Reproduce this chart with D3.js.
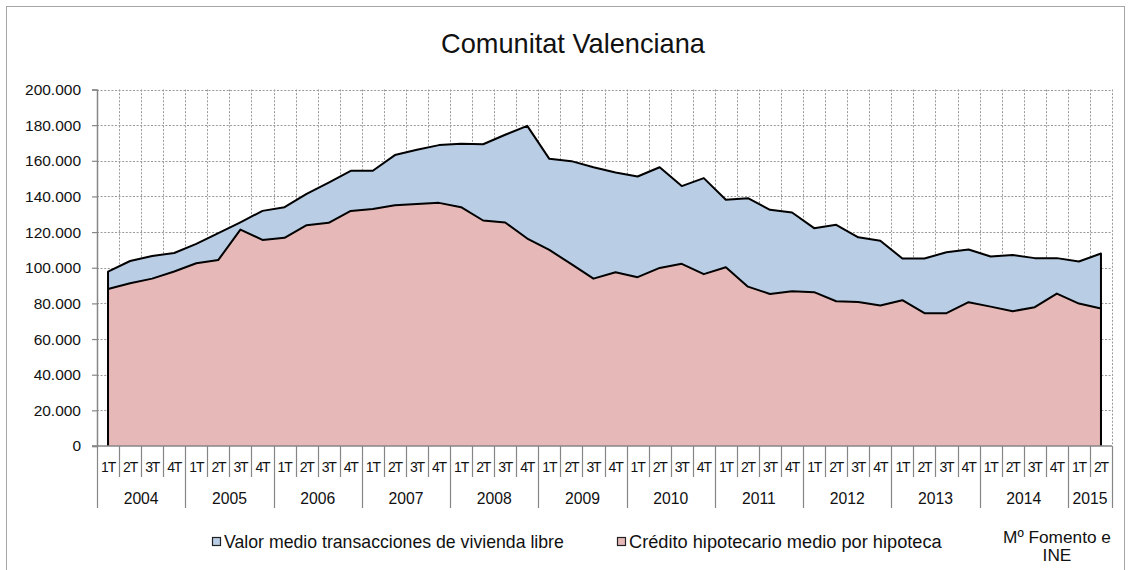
<!DOCTYPE html>
<html><head><meta charset="utf-8">
<script src="https://cdn.jsdelivr.net/npm/d3@7"></script>
<style>html,body{margin:0;padding:0;background:#fff;} svg{display:block;}</style>
</head><body>
<svg id="c" width="1131" height="570"></svg>
<script>
const years = ["2004","2005","2006","2007","2008","2009","2010","2011","2012","2013","2014","2015"];
const quarters = ["1T","2T","3T","4T"];
const yTicks = [0,20000,40000,60000,80000,100000,120000,140000,160000,180000,200000];
const title = "Comunitat Valenciana";
const seriesNames = ["Valor medio transacciones de vivienda libre","Crédito hipotecario medio por hipoteca"];
const source = ["Mº Fomento e","INE"];
const valorMedio = [97800,103800,106600,108300,113400,119400,125500,131900,134000,141500,147800,154400,154400,163200,166200,168800,
  169500,169300,174600,179600,161100,159800,156400,153400,151200,156400,145800,150300,138100,139000,132500,
  131000,122200,124100,117100,115100,105200,105200,108700,110200,106300,107200,105400,105400,103500,108000];
const credito = [88100,91300,93900,97900,102500,104400,121400,115600,116800,123900,125200,131900,133000,135100,135800,136400,
  134000,126500,125400,116400,110000,102000,93900,97500,94700,99900,102200,96400,100300,89400,85300,
  86800,86300,81200,80800,78800,81800,74500,74500,80700,78200,75600,77900,85500,79900,77100];

// categories: year x quarter, last year has 2 quarters
const categories = [];
years.forEach(y => quarters.forEach(q => { if (categories.length < valorMedio.length) categories.push({year:y, q:q}); }));

const FONT = "Liberation Sans";
const svg = d3.select("#c");
const L = 97, R = 1112, T = 89.5, B = 446;

// outer frame
svg.append("rect").attr("x",6.5).attr("y",6.5).attr("width",1118).attr("height",600)
  .attr("fill","#fff").attr("stroke","#a6a6a6").attr("stroke-width",1);

const x = d3.scaleBand().domain(d3.range(categories.length)).range([L,R]).padding(0);
const y = d3.scaleLinear().domain([0,200000]).range([B,T]);
const bw = x.bandwidth();
const cx = i => x(i) + bw/2;

// gridlines
const grid = svg.append("g").attr("stroke","#9a9a9a").attr("stroke-width",1).attr("stroke-dasharray","2,1.6");
yTicks.filter(v=>v>0).forEach(v => grid.append("line").attr("x1",L).attr("x2",R).attr("y1",Math.round(y(v))+0.5).attr("y2",Math.round(y(v))+0.5));
d3.range(1,categories.length+1).forEach(k => {
  const xx = (k<categories.length? x(k) : R);
  grid.append("line").attr("x1",Math.round(xx)+0.5).attr("x2",Math.round(xx)+0.5).attr("y1",T).attr("y2",B);
});

function drawSeries(vals, fill){
  const area = d3.area().x((d,i)=>cx(i)).y0(y(0)).y1(d=>y(d));
  svg.append("path").datum(vals).attr("d",area).attr("fill",fill);
  const pts = [[cx(0),y(0)]].concat(vals.map((d,i)=>[cx(i),y(d)])).concat([[cx(vals.length-1),y(0)]]);
  svg.append("path").datum(pts).attr("d",d3.line()).attr("fill","none").attr("stroke","#000")
    .attr("stroke-width",2).attr("stroke-linejoin","round");
}
drawSeries(valorMedio,"#b9cde5");
drawSeries(credito,"#e6b9b8");

// y axis
const loc = d3.formatLocale({decimal:",",thousands:".",grouping:[3],currency:["","€"]});
const fmt = loc.format(",d");
const yAxis = svg.append("g").attr("transform",`translate(${L},0)`)
  .call(d3.axisLeft(y).tickValues(yTicks).tickSize(5).tickPadding(11).tickFormat(fmt));
yAxis.select(".domain").attr("stroke","#868686").attr("stroke-width",1.5);
yAxis.selectAll(".tick line").attr("stroke","#868686").attr("stroke-width",1.2);
yAxis.selectAll("text").attr("font-family",FONT).attr("font-size",14).attr("fill","#111");

// x axis
const xa = svg.append("g");
xa.append("line").attr("x1",L-5).attr("x2",R).attr("y1",B).attr("y2",B).attr("stroke","#868686").attr("stroke-width",1.5);
d3.range(0,categories.length+1).forEach(k => {
  const xx = (k<categories.length? x(k) : R);
  const yearSep = (k===0 || k===categories.length || categories[k].q==="1T");
  xa.append("line").attr("x1",Math.round(xx)+0.5).attr("x2",Math.round(xx)+0.5).attr("y1",B).attr("y2",yearSep?508:477)
    .attr("stroke","#868686").attr("stroke-width",1.2);
});
xa.selectAll("text.q").data(categories).join("text").attr("class","q")
  .attr("x",(d,i)=>cx(i)).attr("y",467).attr("dy","0.35em").attr("text-anchor","middle")
  .attr("font-family",FONT).attr("font-size",14).attr("letter-spacing",-1.2).attr("fill","#111").text(d=>d.q);
const yearGroups = years.map(yr => {
  const idx = categories.map((c,i)=>c.year===yr?i:-1).filter(i=>i>=0);
  return {yr, a:x(idx[0]), b:x(idx[idx.length-1])+bw};
});
xa.selectAll("text.yr").data(yearGroups).join("text").attr("class","yr")
  .attr("x",d=>(d.a+d.b)/2).attr("y",498).attr("dy","0.35em").attr("text-anchor","middle")
  .attr("font-family",FONT).attr("font-size",14.5).attr("fill","#111").text(d=>d.yr);

// title
svg.append("text").attr("x",573).attr("y",43).attr("dy","0.35em").attr("text-anchor","middle")
  .attr("font-family",FONT).attr("font-size",22).attr("fill","#111").text(title);

// legend
const legColors = ["#b9cde5","#e6b9b8"];
const legX = [212,617];
seriesNames.forEach((n,i)=>{
  svg.append("rect").attr("x",legX[i]+0.5).attr("y",537.5).attr("width",8).attr("height",8)
    .attr("fill",legColors[i]).attr("stroke","#222").attr("stroke-width",1.2);
  svg.append("text").attr("x",legX[i]+12).attr("y",541.5).attr("dy","0.35em")
    .attr("font-family",FONT).attr("font-size",14).attr("fill","#111").text(n);
});
source.forEach((s,i)=>{
  svg.append("text").attr("x",1057).attr("y",537+i*18).attr("dy","0.35em").attr("text-anchor","middle")
    .attr("font-family",FONT).attr("font-size",14).attr("fill","#111").text(s);
});

// fit text widths to reference
function fit(sel, target){
  const n = sel.node(); const w = n.getComputedTextLength();
  const fs = parseFloat(sel.attr("font-size"));
  sel.attr("font-size", (fs*target/w).toFixed(2));
}
svg.selectAll("text").each(function(){
  const t = d3.select(this); const s = t.text();
  if (s===title) fit(t,264);
  else if (s===seriesNames[0]) fit(t,340);
  else if (s===seriesNames[1]) fit(t,313);
  else if (s===source[0]) fit(t,108);
});
const srcFs = svg.selectAll("text").filter(function(){return d3.select(this).text()===source[0];}).attr("font-size");
svg.selectAll("text").filter(function(){return d3.select(this).text()==="INE";}).attr("font-size", srcFs);
// y labels: fit on 200.000 -> 56px
const yl = yAxis.selectAll("text");
const y200 = yl.filter(function(){return d3.select(this).text()==="200.000";});
const k = 56 / y200.node().getComputedTextLength();
yl.attr("font-size",(14*k).toFixed(2));
const yrs = xa.selectAll("text.yr");
const k2 = 35 / yrs.filter(d=>d.yr==="2004").node().getComputedTextLength();
yrs.attr("font-size",(14.5*k2).toFixed(2));
</script>
</body></html>
